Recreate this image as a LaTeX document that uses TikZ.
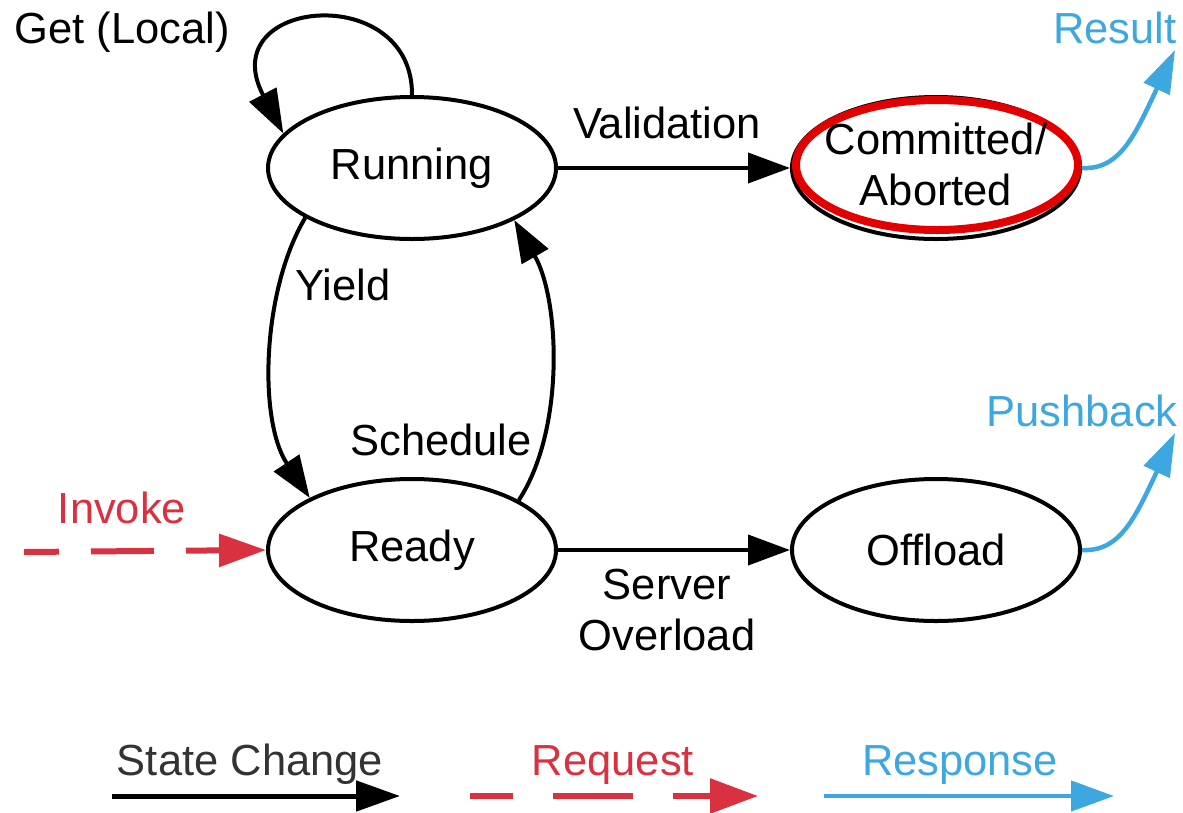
\documentclass[tikz,border=0pt]{standalone}
\usepackage{fontspec}
\setmainfont{Liberation Sans}
\usetikzlibrary{shapes.geometric,arrows.meta}
\definecolor{reqred}{HTML}{D9313F}
\definecolor{resblue}{HTML}{3DA7DF}
\definecolor{commitred}{HTML}{E30000}
\definecolor{legendgray}{HTML}{333333}
\tikzset{
  statenode/.style={ellipse, draw, line width=4pt, minimum width=288pt, minimum height=142pt,
    inner sep=0pt, font=\fontsize{43.5}{51}\selectfont, align=center},
  lbl/.style={font=\fontsize{43.5}{51}\selectfont, anchor=base, inner sep=0pt, align=center},
  change/.style={line width=4pt, -{Triangle[length=42pt,width=30pt]}},
  request/.style={reqred, line width=6pt, -{Triangle[length=47pt,width=32pt]}},
  response/.style={resblue, line width=4.5pt, -{Triangle[length=43pt,width=28pt]}},
}
\begin{document}
\begin{tikzpicture}[x=1pt,y=-1pt]
\useasboundingbox (0,0) rectangle (1183,812);

% states
\node[statenode] (run) at (412,168) {Running};
\node[statenode] (ca) at (936,168) {};
\draw[commitred, line width=8pt] (937,165) ellipse [x radius=141, y radius=65];
\node[lbl, anchor=center] (catext) at (936,164) {Committed/\\Aborted};
\node[statenode] (ready) at (412,550) {Ready};
\node[statenode] (off) at (936,550) {Offload};

% state changes
\draw[change] (run.east) -- (ca.west);
\draw[change] (ready.east) -- (off.west);
\draw[change, -{Triangle[length=44pt,width=30pt]}] (run.north) .. controls (413,-20) and (212,-2) .. (run.165);
\draw[change] (run.205) .. controls (262,290) and (258,420) .. (ready.153);
\draw[change] (ready.25) .. controls (565,430) and (560,300) .. (run.333);

% request
\coordinate (inv) at (24,552);
\draw[request, dash pattern=on 63pt off 32pt, dash phase=28pt] (inv) -- (ready.west);

% responses
\coordinate (resTip) at (1175,50);
\coordinate (pushTip) at (1175,433);
\draw[response] (ca.east) .. controls (1120,170) and (1135,135) .. (resTip);
\draw[response] (off.east) .. controls (1120,552) and (1135,518) .. (pushTip);

% labels
\node[lbl] (lget) at (122,43) {Get (Local)};
\node[lbl] (lval) at (667,138) {Validation};
\node[lbl] (lyield) at (343,300) {Yield};
\node[lbl] (lsched) at (441,455) {Schedule};
\node[lbl, reqred] (linv) at (122,523) {Invoke};
\node[lbl, anchor=center] (lserv) at (667,610) {Server\\Overload};
\node[lbl, resblue] (lres) at (1115,43) {Result};
\node[lbl, resblue] (lpush) at (1082,426) {Pushback};

% legend
\coordinate (lgA) at (112,796);
\coordinate (lgB) at (400,796);
\coordinate (lgC) at (470,796);
\coordinate (lgD) at (758,796);
\coordinate (lgE) at (824,796);
\coordinate (lgF) at (1114,796);
\draw[line width=5pt, -{Triangle[length=44pt,width=30pt]}] (lgA) -- (lgB);
\draw[reqred, line width=6pt, dash pattern=on 80pt off 40pt, dash phase=37pt, -{Triangle[length=48pt,width=34pt]}] (lgC) -- (lgD);
\draw[response, -{Triangle[length=43pt,width=30pt]}] (lgE) -- (lgF);
\node[lbl, legendgray] (lsc) at (250,775) {State Change};
\node[lbl, reqred] (lrq) at (613,775) {Request};
\node[lbl, resblue] (lrs) at (960,775) {Response};
\end{tikzpicture}
\end{document}
